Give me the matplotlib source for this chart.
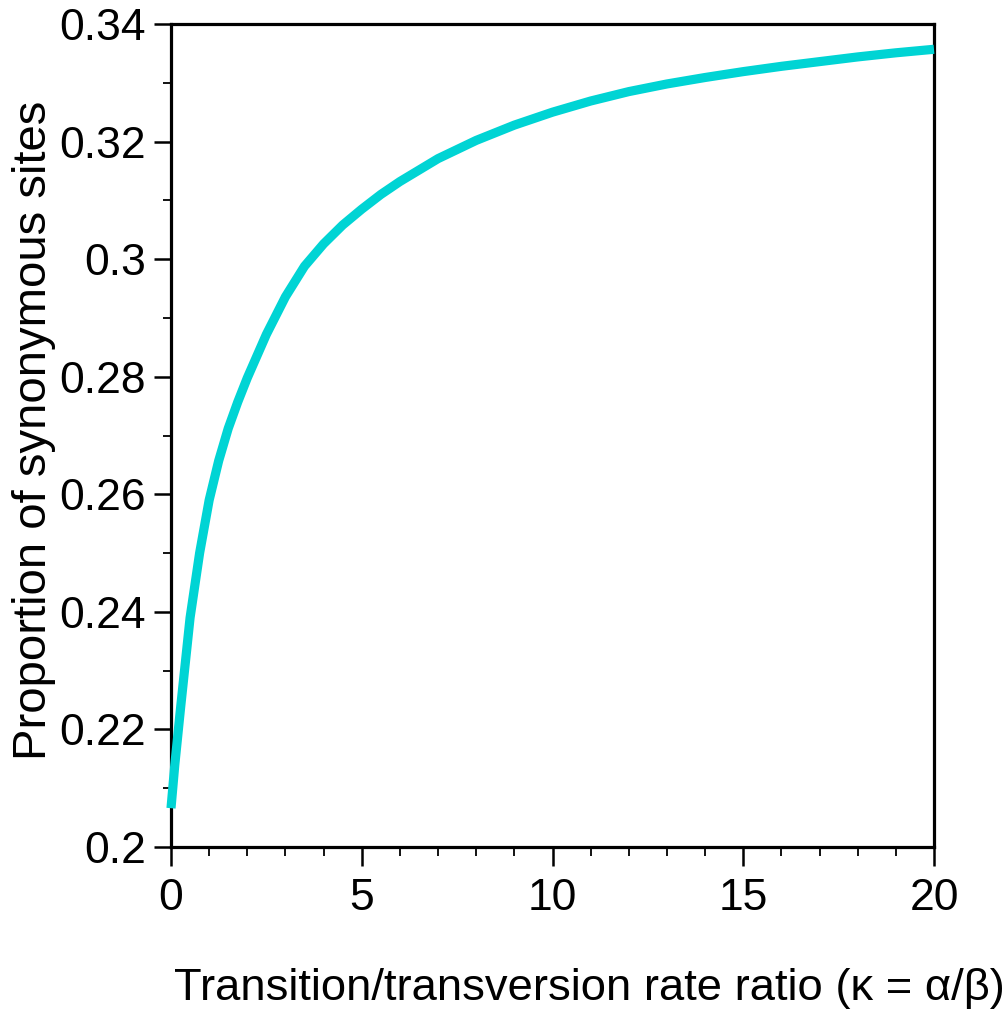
import matplotlib
matplotlib.use("Agg")
import matplotlib.pyplot as plt
from matplotlib.ticker import MultipleLocator, FuncFormatter

kappa = [0.0, 0.1, 0.25, 0.5, 0.75, 1.0, 1.25, 1.5, 1.75, 2.0, 2.5, 3.0, 3.5, 4.0,
         4.5, 5.0, 5.5, 6.0, 7.0, 8.0, 9.0, 10.0, 11.0, 12.0, 13.0, 14.0, 15.0,
         16.0, 17.0, 18.0, 19.0, 20.0]
prop_syn = [0.2066, 0.2140, 0.2236, 0.2390, 0.2500, 0.2590, 0.2657, 0.2712, 0.2757,
            0.2798, 0.2872, 0.2936, 0.2988, 0.3026, 0.3058, 0.3085, 0.3110, 0.3132,
            0.3171, 0.3202, 0.3228, 0.3250, 0.3269, 0.3285, 0.3298, 0.3309, 0.3319,
            0.3328, 0.3336, 0.3344, 0.3351, 0.3357]

xticks = [0, 5, 10, 15, 20]
yticks = [0.2, 0.22, 0.24, 0.26, 0.28, 0.3, 0.32, 0.34]

plt.rcParams['font.family'] = ['Liberation Sans', 'DejaVu Sans']

fig = plt.figure(figsize=(10.07, 10.14), dpi=100)
ax = fig.add_axes([171/1007, 1 - 847/1014, (934-171)/1007, (847-24)/1014])

ax.plot(kappa, prop_syn, color='#00D4D4', lw=6.6, solid_capstyle='butt',
        solid_joinstyle='round', clip_on=False, zorder=3)

ax.set_xlim(0, 20)
ax.set_ylim(0.2, 0.34)
ax.set_xticks(xticks)
ax.set_yticks(yticks)
ax.xaxis.set_minor_locator(MultipleLocator(1))
ax.yaxis.set_minor_locator(MultipleLocator(0.01))
ax.yaxis.set_major_formatter(FuncFormatter(lambda v, p: ('%.2f' % v).rstrip('0')))

for s in ax.spines.values():
    s.set_linewidth(2.3)
ax.tick_params(axis='x', which='major', direction='out', length=14, width=1.8,
               labelsize=32, pad=8)
ax.tick_params(axis='x', which='minor', direction='out', length=6.5, width=1.3)
ax.tick_params(axis='y', which='major', direction='out', length=12, width=1.8,
               labelsize=32, pad=6)
ax.tick_params(axis='y', which='minor', direction='out', length=5.5, width=1.3)

ax.set_xlabel('Transition/transversion rate ratio (\u03ba = \u03b1/\u03b2)', fontsize=32.7)
ax.xaxis.set_label_coords((589 - 171) / 763, -(1000 - 847) / 823, transform=ax.transAxes)
ax.xaxis.label.set_va('baseline')
ax.set_ylabel('Proportion of synonymous sites', fontsize=34)
ax.yaxis.set_label_coords(-(171 - 12) / 763, (847 - 430) / 823, transform=ax.transAxes)
ax.yaxis.label.set_ha('center')
ax.yaxis.label.set_va('top')

fig.savefig('out.png', dpi=100)
